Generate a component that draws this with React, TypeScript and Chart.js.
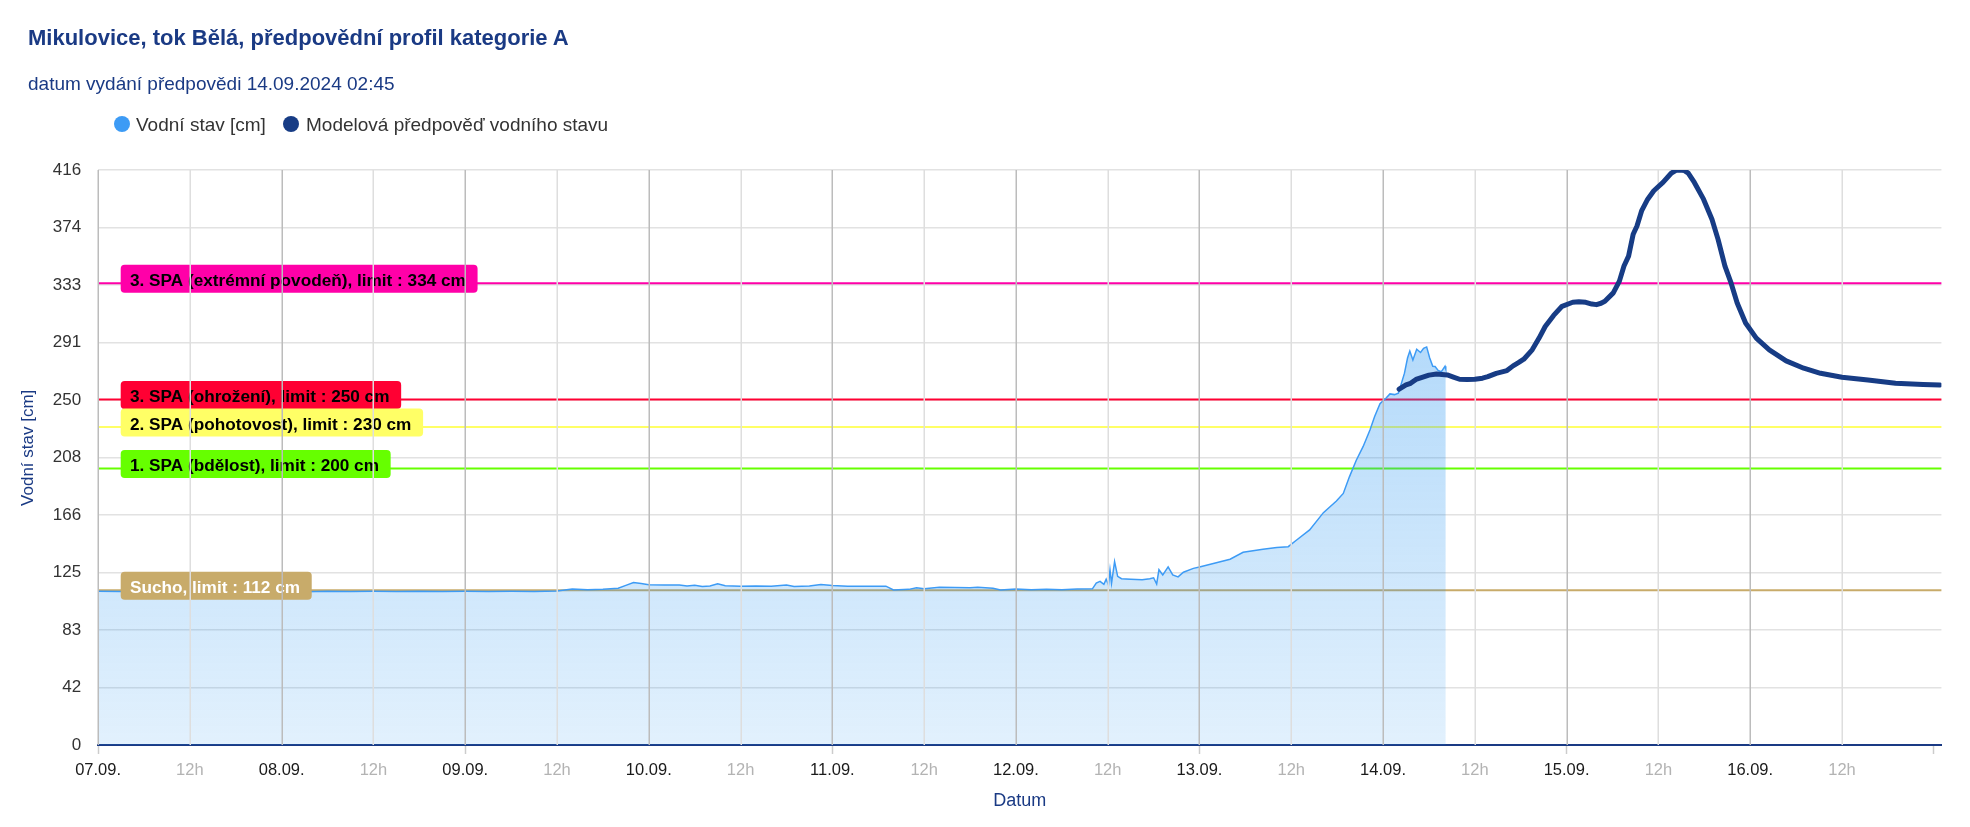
import React, { useEffect, useRef } from "react";
import { Chart, registerables } from "chart.js";

Chart.register(...registerables);

const FONT = "'Liberation Sans', Arial, sans-serif";
const NAVY = "#1a3a84";

const TITLE = "Mikulovice, tok Bělá, předpovědní profil kategorie A";
const SUBTITLE = "datum vydání předpovědi 14.09.2024 02:45";
const SERIES_NAMES = ["Vodní stav [cm]", "Modelová předpověď vodního stavu"];
const SERIES_COLORS = ["#3d9bf5", "#173c85"];
const X_TITLE = "Datum";
const Y_TITLE = "Vodní stav [cm]";

// x = hours since 07.09. 00:00
const X_MAX = 241;
const xTickHours = [0, 12, 24, 36, 48, 60, 72, 84, 96, 108, 120, 132, 144, 156, 168, 180, 192, 204, 216, 228, 240];
const xTickLabels = ["07.09.", "12h", "08.09.", "12h", "09.09.", "12h", "10.09.", "12h", "11.09.", "12h", "12.09.", "12h", "13.09.", "12h", "14.09.", "12h", "15.09.", "12h", "16.09.", "12h", ""];

const yTickValues = [0, 41.6, 83.2, 124.8, 166.4, 208, 249.6, 291.2, 332.8, 374.4, 416];
const yTickLabels = ["0", "42", "83", "125", "166", "208", "250", "291", "333", "374", "416"];

const obsHours = [0, 3, 6, 9, 12, 15, 18, 21, 24, 27, 30, 33, 36, 39, 42, 45, 48, 51, 54, 57, 60, 62, 64, 66, 68, 69, 70, 71, 72, 74, 76, 77, 78, 79, 80, 81, 82, 84, 86, 88, 90, 91, 93, 94.5, 96, 98, 100, 103, 104, 106, 107, 108, 110, 112, 114, 115, 117, 118, 120, 122, 124, 126, 128, 130, 130.5, 131, 131.5, 131.8, 132.1, 132.3, 132.5, 132.9, 133.3, 133.8, 135, 136.5, 137.5, 138, 138.4, 138.7, 139.2, 139.9, 140.5, 141.2, 141.9, 143.2, 144, 146.2, 148, 149.7, 152.3, 154.1, 155.6, 156.7, 158.4, 160.2, 161.9, 162.8, 163.6, 164.5, 165.4, 166.3, 166.9, 167.6, 168.4, 168.9, 169.5, 170.0, 170.2, 170.8, 171.2, 171.5, 171.9, 172.4, 172.9, 173.3, 173.7, 174.1, 174.5, 174.8, 175.2, 175.6, 176.1, 176.2];
const obsValues = [111.2, 111.0, 111.3, 111.1, 111.2, 111.0, 111.3, 111.1, 111.2, 110.9, 111.3, 111.1, 111.2, 111.0, 111.3, 111.1, 111.2, 111.0, 111.2, 111.1, 111.4, 112.8, 112.4, 112.6, 113.4, 115.5, 117.5, 116.8, 116.0, 115.8, 115.8, 115.0, 115.6, 114.6, 115.0, 116.6, 115.2, 114.9, 115.0, 114.8, 115.8, 114.6, 115.0, 116.2, 115.4, 114.9, 114.9, 114.9, 112.2, 112.6, 113.8, 113.0, 114.2, 114.0, 113.8, 114.2, 113.4, 112.2, 112.8, 112.3, 112.6, 112.4, 112.8, 113.0, 117.2, 118.4, 116.2, 120.0, 115.8, 126.6, 117.0, 132.6, 122.0, 120.3, 120.0, 119.6, 120.3, 121.0, 116.5, 126.8, 123.0, 128.9, 123.0, 121.6, 125.0, 127.8, 128.8, 131.9, 134.4, 139.4, 141.6, 142.8, 143.5, 148.3, 155.6, 168.1, 176.5, 182.0, 194.0, 206.0, 216.0, 228.0, 237.6, 247.0, 251.0, 254.0, 253.5, 254.5, 258.0, 269.0, 280.0, 285.0, 278.6, 286.3, 284.0, 287.0, 288.0, 280.0, 274.0, 273.8, 271.0, 270.0, 274.0, 272.0];

const fcHours = [170.1, 171.0, 171.6, 172.3, 173.0, 174.0, 175.0, 176.4, 177.2, 178.0, 179.0, 180.0, 181.0, 181.7, 182.8, 184.2, 185.0, 185.7, 186.4, 187.5, 188.4, 189.2, 190.3, 191.4, 192.8, 193.6, 194.5, 195.3, 195.9, 196.5, 197.0, 198.1, 198.9, 199.5, 200.1, 200.7, 201.2, 201.8, 202.6, 203.4, 204.6, 205.7, 206.3, 206.8, 207.4, 207.9, 208.7, 209.9, 211.0, 211.8, 212.7, 213.5, 214.3, 215.4, 216.8, 218.5, 220.7, 223.0, 225.2, 228.0, 231.4, 235.0, 238.6, 240.8];
const fcValues = [257.4, 260.5, 261.7, 264.5, 265.8, 267.6, 268.4, 267.7, 266.2, 264.6, 264.5, 264.6, 265.4, 266.5, 268.9, 270.9, 274.3, 276.6, 279.1, 285.9, 294.4, 302.8, 310.8, 317.4, 320.3, 320.6, 320.3, 319.0, 318.6, 319.6, 321.0, 327.1, 335.6, 346.5, 353.7, 369.5, 375.5, 386.4, 394.9, 401.0, 407.0, 413.8, 415.8, 416.0, 415.6, 413.8, 407.0, 394.9, 380.4, 365.8, 346.5, 334.3, 319.8, 305.3, 294.4, 285.9, 277.9, 272.6, 268.9, 266.0, 264.1, 261.7, 260.9, 260.4];

const limitValues = [334, 250, 230, 200, 112];
const limitLabels = [
  "3. SPA (extrémní povodeň), limit : 334 cm",
  "3. SPA (ohrožení), limit : 250 cm",
  "2. SPA (pohotovost), limit : 230 cm",
  "1. SPA (bdělost), limit : 200 cm",
  "Sucho, limit : 112 cm",
];
const limitColors = ["#ff00a8", "#ff0033", "#ffff66", "#66ff00", "#c8ab6a"];
const limitTextColors = ["#000000", "#000000", "#000000", "#000000", "#ffffff"];

const W = 1954;
const H = 811;

const customPlugin = {
  id: "customDecor",
  beforeDatasetsDraw(chart: any) {
    const { ctx, chartArea } = chart;
    const y = chart.scales.y;
    ctx.save();
    limitValues.forEach((v, i) => {
      const py = y.getPixelForValue(v);
      ctx.strokeStyle = limitColors[i];
      ctx.lineWidth = 2;
      ctx.beginPath();
      ctx.moveTo(chartArea.left, py);
      ctx.lineTo(chartArea.right, py);
      ctx.stroke();
    });
    ctx.restore();
  },
  afterDatasetDraw(chart: any, args: any) {
    if (args.index !== 0) return;
    const { ctx, chartArea } = chart;
    const y = chart.scales.y;
    const x = chart.scales.x;
    ctx.save();
    // plot line labels
    ctx.font = `bold 17.2px ${FONT}`;
    limitValues.forEach((v, i) => {
      const py = y.getPixelForValue(v);
      const tw = ctx.measureText(limitLabels[i]).width;
      const bx = chartArea.left + 22.6;
      const bh = 28;
      const cy = py - 4.5;
      const by = cy - bh / 2;
      const bw = tw + 21;
      ctx.fillStyle = limitColors[i];
      ctx.beginPath();
      if ((ctx as any).roundRect) (ctx as any).roundRect(bx, by, bw, bh, 4);
      else ctx.rect(bx, by, bw, bh);
      ctx.fill();
      ctx.fillStyle = limitTextColors[i];
      ctx.textBaseline = "alphabetic";
      ctx.textAlign = "left";
      ctx.fillText(limitLabels[i], bx + 9.3, cy + 7);
    });
    // vertical grid lines (drawn above labels)
    xTickHours.forEach((h, i) => {
      if (!xTickLabels[i]) return;
      const px = Math.round(x.getPixelForValue(h)) + 0.25;
      ctx.strokeStyle = i % 2 === 0 ? "#bcbcbc" : "#dedede";
      ctx.lineWidth = 1.5;
      ctx.beginPath();
      ctx.moveTo(px, chartArea.top);
      ctx.lineTo(px, chartArea.bottom);
      ctx.stroke();
    });
    ctx.restore();
  },
  afterDraw(chart: any) {
    const { ctx } = chart;
    ctx.save();
    ctx.translate(20, 439.8);
    ctx.rotate(-Math.PI / 2);
    ctx.font = `17px ${FONT}`;
    ctx.fillStyle = NAVY;
    ctx.textAlign = "center";
    ctx.textBaseline = "middle";
    ctx.fillText(Y_TITLE, 0, 0);
    ctx.restore();
  },
};

export default function App() {
  const ref = useRef<HTMLCanvasElement | null>(null);

  useEffect(() => {
    if (!ref.current) return;
    const obsData = obsHours.map((h, i) => ({ x: h, y: obsValues[i] }));
    const fcData = fcHours.map((h, i) => ({ x: h, y: fcValues[i] }));
    const chart = new Chart(ref.current, {
      type: "line",
      data: {
        datasets: [
          {
            label: SERIES_NAMES[0],
            data: obsData,
            order: 2,
            borderColor: SERIES_COLORS[0],
            borderWidth: 1.5,
            pointRadius: 0,
            tension: 0,
            fill: "origin",
            backgroundColor: (c: any) => {
              const { chart } = c;
              const area = chart.chartArea;
              if (!area) return "rgba(30,144,240,0.25)";
              const g = chart.ctx.createLinearGradient(0, area.top, 0, area.bottom);
              g.addColorStop(0, "rgba(30,144,240,0.42)");
              g.addColorStop(1, "rgba(30,144,240,0.13)");
              return g;
            },
          },
          {
            label: SERIES_NAMES[1],
            data: fcData,
            order: 1,
            borderColor: SERIES_COLORS[1],
            borderWidth: 5,
            pointRadius: 0,
            tension: 0,
            fill: false,
            borderJoinStyle: "round",
            borderCapStyle: "round",
          },
        ],
      },
      options: {
        responsive: false,
        animation: false,
        devicePixelRatio: 1,
        parsing: false as any,
        layout: { padding: { top: 162, right: 20.6, left: 0, bottom: 0 } },
        plugins: {
          legend: { display: false },
          tooltip: { enabled: false },
          title: { display: false },
        },
        scales: {
          x: {
            type: "linear",
            min: 0,
            max: X_MAX,
            afterBuildTicks: (s: any) => {
              s.ticks = xTickHours.map((v) => ({ value: v }));
            },
            afterFit: (s: any) => {
              s.height = 74;
            },
            ticks: {
              autoSkip: false,
              maxRotation: 0,
              minRotation: 0,
              padding: 7,
              font: { family: FONT, size: 16.5 },
              color: (c: any) => (c.index % 2 === 1 ? "#b3b3b3" : "#1a1a1a"),
              callback: (_v: any, i: number) => xTickLabels[i],
            },
            grid: {
              drawOnChartArea: false,
              drawTicks: true,
              tickLength: 9,
              tickWidth: 1.5,
              tickColor: (c: any) =>
                xTickHours[c.index] % 48 === 0 ? "#cccccc" : "rgba(0,0,0,0)",
            },
            border: { display: true, color: NAVY, width: 2 },
            title: {
              display: true,
              text: X_TITLE,
              color: NAVY,
              font: { family: FONT, size: 18 },
              padding: { top: 0, bottom: 7.6 },
            },
          },
          y: {
            type: "linear",
            min: 0,
            max: 416,
            afterBuildTicks: (s: any) => {
              s.ticks = yTickValues.map((v) => ({ value: v }));
            },
            afterFit: (s: any) => {
              s.width = 90.1;
            },
            ticks: {
              padding: 17,
              color: "#333333",
              font: { family: FONT, size: 17 },
              callback: (_v: any, i: number) => yTickLabels[i],
            },
            grid: { color: "#e2e2e2", lineWidth: 1.5, drawTicks: false },
            border: { display: false },
            title: { display: false },
          },
        },
      },
      plugins: [customPlugin],
    } as any);
    return () => chart.destroy();
  }, []);

  const textBase: React.CSSProperties = {
    position: "absolute",
    whiteSpace: "nowrap",
    fontFamily: FONT,
  };

  return (
    <div style={{ position: "relative", width: W, height: H, fontFamily: FONT }}>
      <canvas
        ref={ref}
        width={W}
        height={H}
        style={{ position: "absolute", left: 0, top: 0, display: "block", width: W, height: H }}
      />
      <div style={{ ...textBase, left: 20, top: 19, fontSize: 22, lineHeight: "22px", fontWeight: "bold", color: NAVY }}>
        {TITLE}
      </div>
      <div style={{ ...textBase, left: 20, top: 65.5, fontSize: 19, lineHeight: "19px", color: NAVY }}>
        {SUBTITLE}
      </div>
      <div style={{ position: "absolute", left: 106, top: 108.4, width: 16, height: 16, borderRadius: "50%", background: SERIES_COLORS[0] }} />
      <div style={{ ...textBase, left: 128, top: 107, fontSize: 19, lineHeight: "19px", color: "#333333" }}>
        {SERIES_NAMES[0]}
      </div>
      <div style={{ position: "absolute", left: 275, top: 108.4, width: 16, height: 16, borderRadius: "50%", background: SERIES_COLORS[1] }} />
      <div style={{ ...textBase, left: 298, top: 107, fontSize: 19, lineHeight: "19px", color: "#333333" }}>
        {SERIES_NAMES[1]}
      </div>
    </div>
  );
}
